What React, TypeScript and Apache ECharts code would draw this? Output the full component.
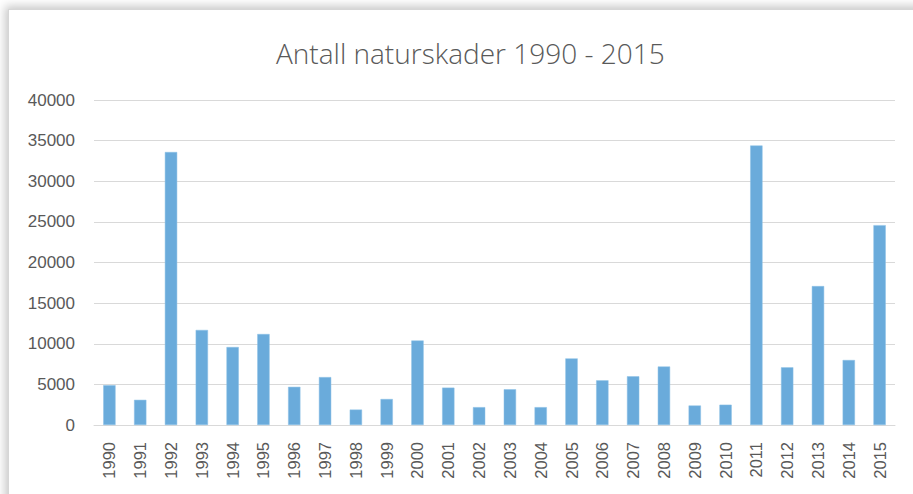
import React, { useEffect, useRef } from "react";
import * as echarts from "echarts";

const years = [
  "1990", "1991", "1992", "1993", "1994", "1995", "1996", "1997", "1998", "1999",
  "2000", "2001", "2002", "2003", "2004", "2005", "2006", "2007", "2008", "2009",
  "2010", "2011", "2012", "2013", "2014", "2015",
];
const skader = [
  4900, 3100, 33600, 11700, 9600, 11200, 4700, 5900, 1900, 3200,
  10400, 4600, 2200, 4400, 2200, 8200, 5500, 6000, 7200, 2400,
  2500, 34400, 7100, 17100, 8000, 24600,
];
const titleText = "Antall naturskader 1990 - 2015";

export default function App() {
  const ref = useRef<HTMLDivElement>(null);
  useEffect(() => {
    if (!ref.current) return;
    const chart = echarts.init(ref.current, undefined, { renderer: "svg" });
    chart.setOption({
      animation: false,
      backgroundColor: "transparent",
      title: {
        text: titleText,
        left: 271,
        top: 34,
        textStyle: {
          fontFamily: "Open Sans",
          fontWeight: 300,
          fontSize: 28,
          color: "#595959",
        },
      },
      grid: { left: 94, right: 18, top: 100, bottom: 69, containLabel: false },
      xAxis: {
        type: "category",
        data: years,
        axisLine: { lineStyle: { color: "#d9d9d9", width: 1 } },
        axisTick: { show: false },
        axisLabel: {
          rotate: 90,
          margin: 17,
          color: "#595959",
          fontFamily: "Liberation Sans",
          fontSize: 16.5,
          interval: 0,
        },
      },
      yAxis: {
        type: "value",
        min: 0,
        max: 40000,
        interval: 5000,
        axisLine: { show: false },
        axisTick: { show: false },
        axisLabel: {
          margin: 19,
          color: "#595959",
          fontFamily: "Liberation Sans",
          fontSize: 17,
          formatter: (v: number) => String(v),
        },
        splitLine: { lineStyle: { color: "#d9d9d9", width: 1 } },
      },
      series: [
        {
          type: "bar",
          data: skader,
          barWidth: "40%",
          itemStyle: { color: "#6aabdb", borderColor: "#8cc0e6", borderWidth: 0.5 },
        },
      ],
    });
    return () => chart.dispose();
  }, []);

  return (
    <div
      style={{
        position: "absolute",
        left: 0,
        top: 0,
        width: 913,
        height: 494,
        overflow: "hidden",
        background: "#ffffff",
      }}
    >
      <div
        style={{
          position: "absolute",
          left: 8,
          top: 9,
          width: 930,
          height: 520,
          background: "#ffffff",
          borderLeft: "1px solid #d6d6d6",
          borderTop: "1px solid #d6d6d6",
          boxShadow: "-3px -3px 9px rgba(0,0,0,0.22)",
        }}
      />
      <div
        ref={ref}
        style={{ position: "absolute", left: 0, top: 0, width: 913, height: 494 }}
      />
    </div>
  );
}
